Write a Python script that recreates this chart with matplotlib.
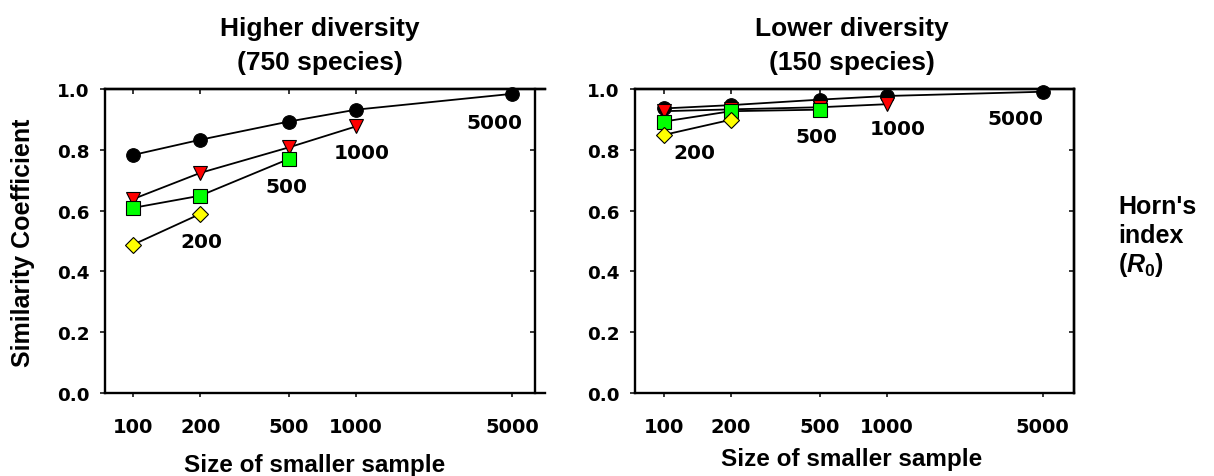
import matplotlib
matplotlib.use("Agg")
import matplotlib.pyplot as plt
from matplotlib.ticker import FixedLocator, FixedFormatter, NullLocator

# ---------------- data ----------------
sizes = [100, 200, 500, 1000, 5000]
series_names = ["5000", "1000", "500", "200"]

# Higher diversity (750 species)
high_5000 = [0.783, 0.833, 0.893, 0.932, 0.984]
high_1000 = [0.638, 0.724, 0.808, 0.877]
high_500 = [0.609, 0.649, 0.770]
high_200 = [0.488, 0.589]

# Lower diversity (150 species)
low_5000 = [0.936, 0.947, 0.965, 0.977, 0.991]
low_1000 = [0.927, 0.933, 0.940, 0.950]
low_500 = [0.893, 0.927, 0.932]
low_200 = [0.849, 0.899]

yticks = [0.0, 0.2, 0.4, 0.6, 0.8, 1.0]
ytick_labels = ["0.0", "0.2", "0.4", "0.6", "0.8", "1.0"]
xtick_labels = ["100", "200", "500", "1000", "5000"]

W, H = 1214, 477
fig = plt.figure(figsize=(W / 100, H / 100), dpi=100)

def fx(x):
    return x / W

def fy(y):
    return 1 - y / H

LAB = "Liberation Sans"
NUM = "DejaVu Sans"

styles = [
    dict(marker="o", color="black", mfc="black", mec="black", ms=9.8),
    dict(marker="v", color="black", mfc="#FF0000", mec="black", ms=10.5),
    dict(marker="s", color="black", mfc="#00FF00", mec="black", ms=9.4),
    dict(marker="D", color="black", mfc="#FFFF00", mec="black", ms=8.3),
]

def setup(ax, xlim, right_spine_frac=None):
    ax.set_xscale("log")
    ax.set_xlim(*xlim)
    ax.set_ylim(0, 1.0)
    ax.xaxis.set_major_locator(FixedLocator(sizes))
    ax.xaxis.set_major_formatter(FixedFormatter(xtick_labels))
    ax.xaxis.set_minor_locator(NullLocator())
    ax.yaxis.set_major_locator(FixedLocator(yticks))
    ax.yaxis.set_major_formatter(FixedFormatter(ytick_labels))
    for s in ax.spines.values():
        s.set_linewidth(1.7)
    ax.tick_params(axis="x", which="major", direction="out", length=3.2, width=1.1,
                   pad=14, labelsize=14, top=False)
    ax.tick_params(axis="y", which="major", direction="out", length=3.6, width=1.1,
                   pad=7.5, labelsize=13.2, right=False)
    for lab in ax.get_xticklabels() + ax.get_yticklabels():
        lab.set_fontfamily(NUM)
        lab.set_fontweight("bold")
    # top inward ticks
    sx = ax.secondary_xaxis("top")
    sx.set_xscale("log")
    sx.xaxis.set_major_locator(FixedLocator(sizes))
    sx.xaxis.set_minor_locator(NullLocator())
    sx.tick_params(direction="in", length=3.6, width=1.1, labeltop=False)
    sx.spines["top"].set_linewidth(1.7)
    # right inward ticks
    if right_spine_frac is not None:
        ax.spines["right"].set_visible(False)
        sy = ax.secondary_yaxis(right_spine_frac)
    else:
        sy = ax.secondary_yaxis("right")
    sy.yaxis.set_major_locator(FixedLocator(yticks))
    sy.tick_params(direction="in", length=3.6, width=1.1, labelright=False)
    for s in sy.spines.values():
        s.set_linewidth(1.7)

def draw(ax, data):
    for vals, st in zip(data, styles):
        ax.plot(sizes[:len(vals)], vals, lw=1.3, mew=0.8, clip_on=False, zorder=3, **st)

def label(ax, x, y, txt, dx, dy):
    ax.annotate(txt, (x, y), xytext=(dx, -dy), textcoords="offset pixels",
                ha="center", va="baseline", fontsize=14.5, fontweight="bold",
                family=NUM, zorder=5)

# left panel
ax1 = fig.add_axes([fx(105), fy(394), fx(440), 304 / H])
setup(ax1, (74.8, 7040), right_spine_frac=(535 - 105) / 440)
high = [high_5000, high_1000, high_500, high_200]
draw(ax1, high)
label(ax1, sizes[4], high_5000[4], "5000", -17, 34)
label(ax1, sizes[3], high_1000[3], "1000", 6, 32)
label(ax1, sizes[2], high_500[2], "500", -2, 33)
label(ax1, sizes[1], high_200[1], "200", 1, 33)

# right panel
ax2 = fig.add_axes([fx(635), fy(394), fx(439), 304 / H])
setup(ax2, (74.2, 6900))
low = [low_5000, low_1000, low_500, low_200]
draw(ax2, low)
label(ax2, sizes[4], low_5000[4], "5000", -27, 32)
label(ax2, sizes[3], low_1000[3], "1000", 11, 30)
label(ax2, sizes[2], low_500[2], "500", -3, 32)
label(ax2, sizes[0], low_200[0], "200", 30, 23)

# titles
tkw = dict(ha="center", va="baseline", fontsize=19, fontweight="bold", family=LAB)
fig.text(fx(320), fy(36), "Higher diversity", **tkw)
fig.text(fx(320), fy(70), "(750 species)", **tkw)
fig.text(fx(852), fy(36), "Lower diversity", **tkw)
fig.text(fx(852), fy(70), "(150 species)", **tkw)

# axis labels
lkw = dict(fontsize=17.5, fontweight="bold", family=LAB)
fig.text(fx(315), fy(472), "Size of smaller sample", ha="center", va="baseline", **lkw)
fig.text(fx(852), fy(466), "Size of smaller sample", ha="center", va="baseline", **lkw)
fig.text(fx(23), fy(243), "Similarity Coefficient", ha="center", va="center",
         rotation=90, fontsize=18, fontweight="bold", family=LAB)

# Horn's index text
plt.rcParams["mathtext.fontset"] = "custom"
plt.rcParams["mathtext.it"] = "Liberation Sans:bold:italic"
plt.rcParams["mathtext.rm"] = "Liberation Sans:bold"
hkw = dict(ha="left", va="baseline", fontsize=18, fontweight="bold", family=LAB)
fig.text(fx(1118), fy(214), "Horn's", **hkw)
fig.text(fx(1118), fy(243), "index", **hkw)
fig.text(fx(1118), fy(272), r"($\mathit{R}_{\mathit{0}}$)", **hkw)

fig.savefig("out.png", dpi=100)
